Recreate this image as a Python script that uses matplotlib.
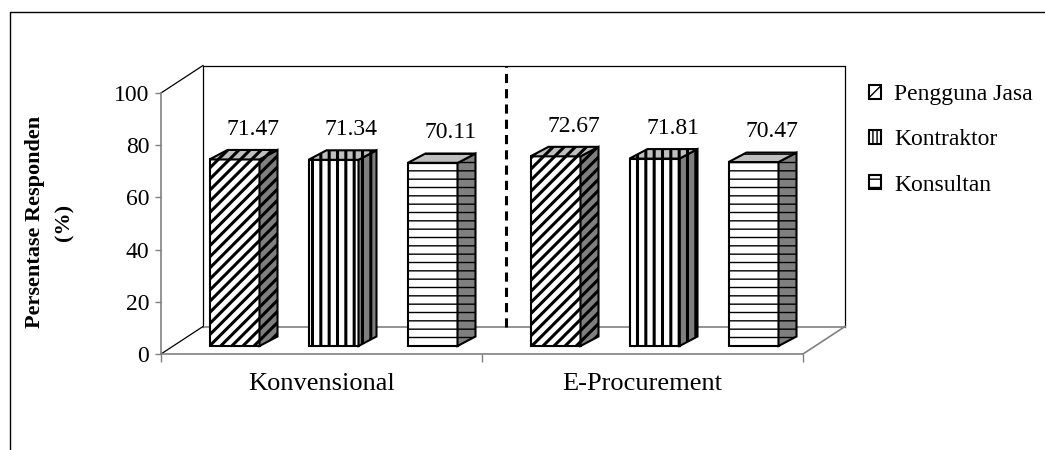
import matplotlib
matplotlib.use('Agg')
from matplotlib import pyplot as plt
from matplotlib.patches import Polygon, Patch
from matplotlib.lines import Line2D

# data
categories = ['Konvensional', 'E-Procurement']
series_names = ['Pengguna Jasa', 'Kontraktor', 'Konsultan']
pengguna_jasa = [71.47, 72.67]
kontraktor = [71.34, 71.81]
konsultan = [70.11, 70.47]
y_ticks = [0, 20, 40, 60, 80, 100]

series_values = [pengguna_jasa, kontraktor, konsultan]
hatches = ['///', '||', '--']
hatch_widths = [2.2, 2.2, 1.0]

plt.rcParams['font.family'] = ['Liberation Serif', 'DejaVu Serif']

W, H = 1045, 450
fig = plt.figure(figsize=(W / 100, H / 100), dpi=100)
# front plane of the 3d box
ax = fig.add_axes([161 / W, 96 / H, 642 / W, 261 / H])
ax.set_xlim(0, 2)
ax.set_ylim(0, 100)

px_x = 642 / 2.0     # pixels per x unit
px_y = 261 / 100.0   # pixels per y unit

# depth offsets (data units)
wall_dx, wall_dy = 42 / px_x, 27.5 / px_y
bar_dx0, bar_dy0 = 12 / px_x, 8 / px_y
side_dx, side_dy = 18 / px_x, 9.5 / px_y
bar_w = 50 / px_x
bar_step = 99 / px_x

gray = '#808080'

# back wall, side wall and floor
ax.add_patch(Polygon([(wall_dx, wall_dy), (2 + wall_dx, wall_dy),
                      (2 + wall_dx, 100 + wall_dy), (wall_dx, 100 + wall_dy)],
                     closed=True, facecolor='white', edgecolor='none',
                     zorder=0, clip_on=False))
ax.plot([wall_dx, wall_dx, 2 + wall_dx, 2 + wall_dx],
        [wall_dy, 100 + wall_dy, 100 + wall_dy, wall_dy],
        color='black', lw=0.9, clip_on=False, zorder=1)
ax.plot([wall_dx, 2 + wall_dx], [wall_dy, wall_dy],
        color=gray, lw=1.2, clip_on=False, zorder=1)
ax.plot([0, wall_dx], [100, 100 + wall_dy], color='black', lw=0.9,
        clip_on=False, zorder=1)
ax.plot([0, wall_dx], [0, wall_dy], color='black', lw=0.9,
        clip_on=False, zorder=1)
ax.plot([2, 2 + wall_dx], [0, wall_dy], color=gray, lw=1.2,
        clip_on=False, zorder=1)

# dashed divider on the back wall between the two groups
ax.plot([1 + 0.57 * wall_dx] * 2, [wall_dy, 100 + wall_dy], color='black',
        lw=2.2, linestyle=(0, (3, 2)), clip_on=False, zorder=1)

for k, (vals, hatch, hlw) in enumerate(zip(series_values, hatches, hatch_widths)):
    xs = [i + 0.5 + bar_dx0 + (k - 1) * bar_step for i in range(len(categories))]
    with plt.rc_context({'hatch.linewidth': hlw}):
        ax.bar(xs, vals, width=bar_w, bottom=bar_dy0, facecolor='white',
               edgecolor='black', linewidth=1.5, hatch=hatch, zorder=3,
               clip_on=False)
        for x, v in zip(xs, vals):
            x0, x1 = x - bar_w / 2, x + bar_w / 2
            top = bar_dy0 + v
            ax.add_patch(Polygon([(x1, bar_dy0), (x1 + side_dx, bar_dy0 + side_dy),
                                  (x1 + side_dx, top + side_dy), (x1, top)],
                                 closed=True, facecolor='#7f7f7f',
                                 edgecolor='black', lw=1.5, hatch=hatch,
                                 zorder=3, clip_on=False))
            ax.add_patch(Polygon([(x0, top), (x1, top),
                                  (x1 + side_dx, top + side_dy),
                                  (x0 + side_dx, top + side_dy)],
                                 closed=True, facecolor='#bfbfbf',
                                 edgecolor='black', lw=1.5, hatch=hatch,
                                 zorder=3, clip_on=False))
            ax.annotate(f'{v:.2f}', xy=(x + side_dx, top + side_dy),
                        xytext=(0, 11), textcoords='offset points',
                        ha='center', va='baseline', fontsize=17, zorder=4)

# axes styling
for side in ['top', 'right']:
    ax.spines[side].set_visible(False)
for side in ['left', 'bottom']:
    ax.spines[side].set_color(gray)
    ax.spines[side].set_linewidth(1.2)
ax.set_yticks(y_ticks)
ax.tick_params(axis='y', colors=gray, labelcolor='black', labelsize=17,
               length=4.5, width=1, pad=4)
ax.set_xticks([0, 1, 2])
ax.set_xticklabels([])
ax.tick_params(axis='x', colors=gray, length=6, width=1)
ax.set_xticks([i + 0.5 for i in range(len(categories))], minor=True)
ax.set_xticklabels(categories, minor=True)
ax.tick_params(axis='x', which='minor', length=0, labelsize=19, pad=14,
               labelcolor='black')
ax.patch.set_visible(False)

fig.text(50 / W, 1 - 222 / H, 'Persentase Responden\n(%)', rotation=90,
         ha='center', va='center', fontsize=16, fontweight='bold',
         linespacing=1.6)

# legend (small icons, denser pattern like the original)
handles = []
for name, hatch, hlw in zip(series_names, ['//', '||||', '--'], [2.5, 2.5, 1.5]):
    with plt.rc_context({'hatch.linewidth': hlw}):
        handles.append(Patch(facecolor='white', edgecolor='black', lw=1.5,
                             hatch=hatch, label=name))
fig.legend(handles=handles, loc='upper left',
           bbox_to_anchor=(869 / W, 1 - 84 / H), frameon=False, fontsize=17,
           handlelength=0.52, handleheight=0.52, handletextpad=0.55,
           labelspacing=1.03, borderpad=0, borderaxespad=0)

# outer chart border (right and bottom run off the picture)
fig.add_artist(Line2D([10 / W, 10 / W, 1.0], [0.0, 1 - 12 / H, 1 - 12 / H],
                      transform=fig.transFigure, color='black', lw=1))

fig.savefig('out.png', dpi=100)
